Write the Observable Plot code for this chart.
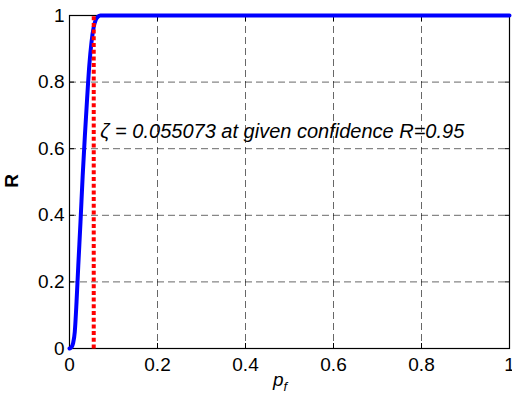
<!DOCTYPE html>
<html>
<head>
<meta charset="utf-8">
<script src="https://cdn.jsdelivr.net/npm/d3@7"></script>
<script src="https://cdn.jsdelivr.net/npm/@observablehq/plot@0.6"></script>
<style>
  html, body { margin: 0; padding: 0; background: #fff; }
  svg { display: block; }
</style>
</head>
<body>
<div id="chart"></div>
<script>
// Reliability curve R vs failure probability p_f
const pf = [0, 0.004, 0.008, 0.012, 0.016, 0.02, 0.025, 0.03, 0.035, 0.04, 0.045, 0.05, 0.055, 0.06, 0.065, 0.07, 0.08, 1];
const R  = [0, 0.003, 0.015, 0.05, 0.14, 0.25, 0.38, 0.52, 0.64, 0.75, 0.85, 0.92, 0.965, 0.988, 0.997, 1, 1, 1];
const zeta = 0.055073;
const thresholdR = [0, 1];
const ticks = [0, 0.2, 0.4, 0.6, 0.8, 1];
const tickLabels = ["0", "0.2", "0.4", "0.6", "0.8", "1"];
const annotation = "ζ = 0.055073 at given confidence R=0.95";
const annotationPos = {pf: 0.07, R: 0.65};

const curve = pf.map((p, i) => ({pf: p, R: R[i]}));
const vline = thresholdR.map(r => ({pf: zeta, R: r}));
const fmt = d => tickLabels[ticks.indexOf(d)] ?? String(d);
const none = () => "";
const gridStyle = {stroke: "#000", strokeOpacity: 0.85, strokeWidth: 0.7, strokeDasharray: "7,4"};

const plot = Plot.plot({
  width: 512,
  height: 402,
  marginLeft: 69,
  marginRight: 3,
  marginTop: 15,
  marginBottom: 54,
  style: {fontFamily: "'Liberation Sans', Arial, sans-serif", fontSize: "19px", color: "#000", background: "#fff"},
  x: {domain: [0, 1], label: null},
  y: {domain: [0, 1], label: null},
  marks: [
    Plot.gridX(ticks.slice(1, -1), gridStyle),
    Plot.gridY(ticks.slice(1, -1), gridStyle),
    Plot.axisX(ticks, {anchor: "bottom", tickSize: -5, tickFormat: none, strokeWidth: 1}),
    Plot.axisX(ticks, {anchor: "top", tickSize: -5, tickFormat: none, strokeWidth: 1}),
    Plot.axisY(ticks, {anchor: "left", tickSize: -5, tickFormat: none, strokeWidth: 1}),
    Plot.axisY(ticks, {anchor: "right", tickSize: -5, tickFormat: none, strokeWidth: 1}),
    Plot.axisX(ticks, {anchor: "bottom", tickSize: 0, tickPadding: 9, tickFormat: fmt, fontSize: 19}),
    Plot.axisY(ticks, {anchor: "left", tickSize: 0, tickPadding: 5, tickFormat: fmt, fontSize: 19}),
    Plot.frame({stroke: "#000", strokeWidth: 1.2}),
    Plot.line(curve, {x: "pf", y: "R", stroke: "#0000ff", strokeWidth: 4, curve: "monotone-x"}),
    Plot.line(vline, {x: "pf", y: "R", stroke: "#ff0000", strokeWidth: 4, strokeDasharray: "4,2.7", strokeLinecap: "butt"}),
    Plot.text([annotationPos], {x: "pf", y: "R", text: () => annotation, textAnchor: "start", fontStyle: "italic", fontSize: 20, fill: "#000"})
  ]
});

const svg = d3.select(plot);
svg.append("text")
  .attr("transform", "translate(18,181) rotate(-90)")
  .attr("text-anchor", "middle")
  .attr("font-weight", "bold")
  .attr("font-size", 19)
  .attr("fill", "#000")
  .text("R");
const xl = svg.append("text")
  .attr("x", 280)
  .attr("y", 386)
  .attr("font-size", 19)
  .attr("font-style", "italic")
  .attr("fill", "#000");
xl.append("tspan").text("p");
xl.append("tspan").attr("dy", 5).attr("font-size", 13).text("f");

document.getElementById("chart").appendChild(plot);
</script>
</body>
</html>
